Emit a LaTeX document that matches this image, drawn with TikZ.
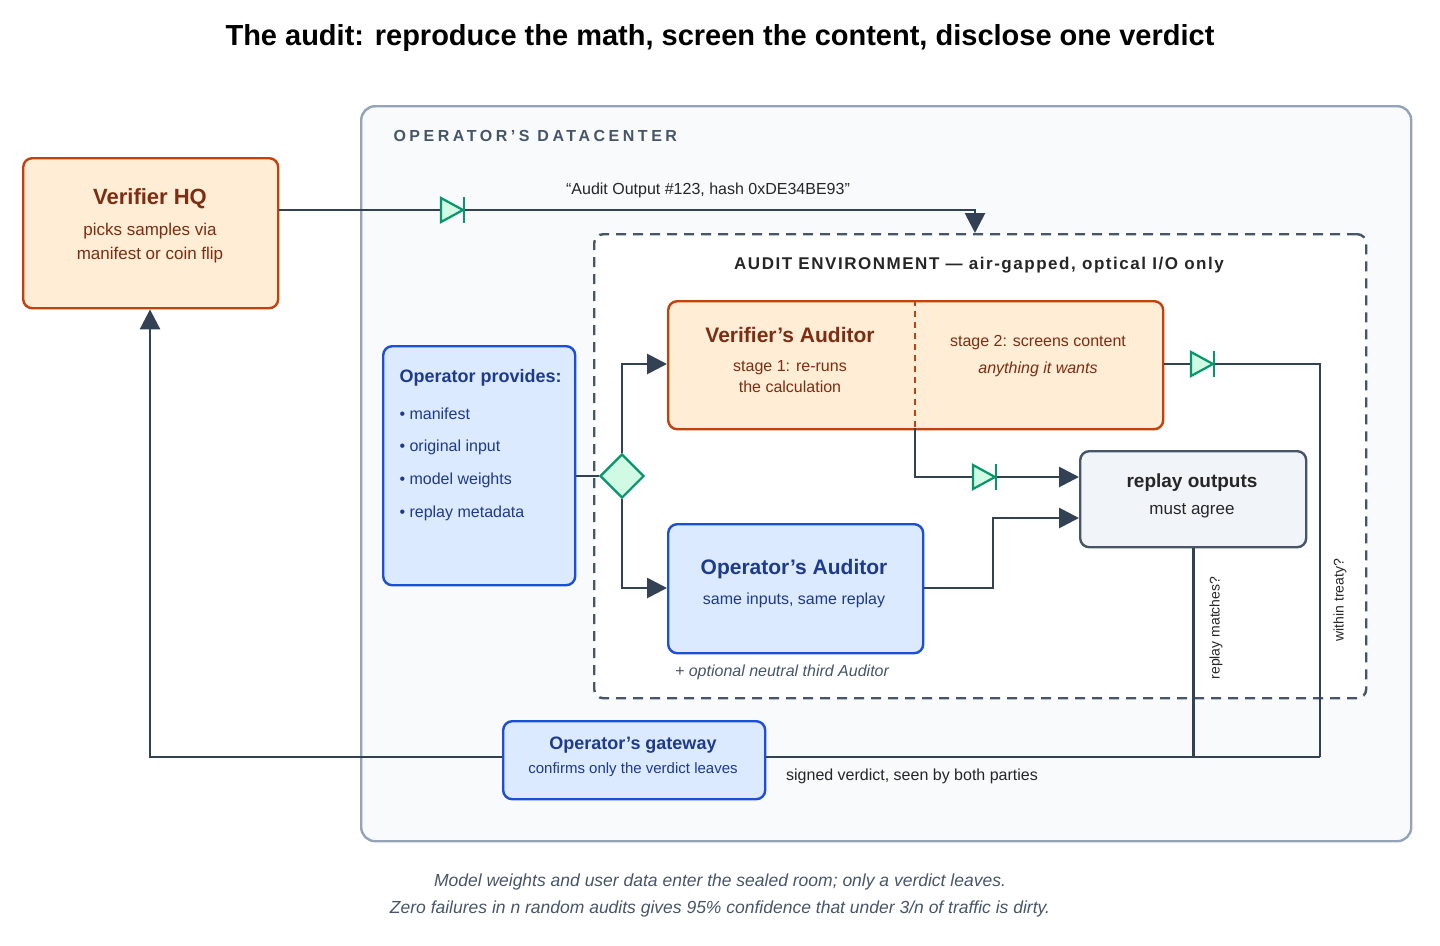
\documentclass[tikz,border=0pt]{standalone}
\usepackage{fontspec}
\defaultfontfeatures{}
\setmainfont{Liberation Sans}
\usepackage{xcolor}
\usetikzlibrary{positioning}
\usetikzlibrary{arrows.meta}
\usetikzlibrary{shapes.geometric}
\usetikzlibrary{calc}

\definecolor{ink}{HTML}{334155}
\definecolor{orgfill}{HTML}{FFEDD5}
\definecolor{orgline}{HTML}{C2410C}
\definecolor{orgtext}{HTML}{7C2D12}
\definecolor{bluefill}{HTML}{DBEAFE}
\definecolor{blueline}{HTML}{1D4ED8}
\definecolor{bluetext}{HTML}{1E3A8A}
\definecolor{grayfill}{HTML}{F1F5F9}
\definecolor{grayline}{HTML}{475569}
\definecolor{roomfill}{HTML}{F8FAFC}
\definecolor{roomline}{HTML}{94A3B8}
\definecolor{diodeline}{HTML}{059669}
\definecolor{diodefill}{HTML}{D1FAE5}

\tikzset{
  box/.style={draw, line width=2.4pt, rounded corners=9pt, anchor=north west, inner sep=0pt},
  wire/.style={draw=ink, line width=2.8pt},
  tip/.style={wire, -{Triangle[length=20pt,width=20pt]}},
  txt/.style={font=\fontsize{16}{19}\selectfont},
}
\newcommand{\diode}[1]{%
  \filldraw[draw=diodeline, fill=diodefill, line width=2.2pt] ($(#1)+(-12,-12)$) -- ($(#1)+(10,0)$) -- ($(#1)+(-12,12)$) -- cycle;
  \draw[diodeline, line width=2.8pt] ($(#1)+(11,-13)$) -- ($(#1)+(11,13)$);}

\begin{document}
\begin{tikzpicture}[x=1pt,y=-1pt]
\useasboundingbox (0,0) rectangle (1440,945);

% Title
\node[font=\bfseries\fontsize{29}{32}\selectfont, text=black] (title) at (720,38) {The audit: reproduce the math, screen the content, disclose one verdict};

% Rooms
\node[box, draw=roomline, fill=roomfill, rounded corners=14pt, minimum width=1050pt, minimum height=735pt] (dc) at (360,105) {};
\node[anchor=west, font=\bfseries\fontsize{16}{18}\selectfont\addfontfeatures{LetterSpace=22}, text=grayline] (dclabel) at (390,136) {OPERATOR'S DATACENTER};
\node[box, draw=grayline, fill=white, dash pattern=on 10pt off 7pt, line width=2.4pt, minimum width=772pt, minimum height=464pt] (env) at (593,233) {};
\node[font=\bfseries\fontsize{17}{19}\selectfont\addfontfeatures{LetterSpace=9}, text=black!85] (envlabel) at (979,265) {AUDIT ENVIRONMENT — air-gapped, optical I/O only};

% Boxes
\node[box, draw=orgline, fill=orgfill, minimum width=255pt, minimum height=150pt] (hq) at (22,157) {};
\node[font=\bfseries\fontsize{22}{25}\selectfont, text=orgtext] at (150,199) {Verifier HQ};
\node[text=orgtext, align=center, font=\fontsize{17}{24}\selectfont] at (150,243) {picks samples via\\manifest or coin flip};

\node[box, draw=blueline, fill=bluefill, minimum width=192pt, minimum height=239pt] (ops) at (382,345) {};
\node[anchor=west, font=\bfseries\fontsize{18}{20}\selectfont, text=bluetext] at (396,378) {Operator provides:};
\foreach \item [count=\i] in {manifest, original input, model weights, replay metadata}
  \node[anchor=west, txt, text=bluetext] at (396,381+\i*33) {• \item};

\node[diamond, draw=diodeline, fill=diodefill, line width=2.2pt, minimum width=44pt, minimum height=44pt, inner sep=0pt] (split) at (622,476) {};

\node[box, draw=orgline, fill=orgfill, minimum width=495pt, minimum height=128pt] (vaud) at (667,300) {};
\draw[orgline, line width=1.6pt, dash pattern=on 6pt off 5pt] (915,300) -- (915,428);
\node[font=\bfseries\fontsize{21}{24}\selectfont, text=orgtext] at (790,335) {Verifier's Auditor};
\node[txt, text=orgtext, align=center, font=\fontsize{16}{21}\selectfont] at (790,377) {stage 1: re-runs\\the calculation};
\node[text=orgtext, align=center, font=\fontsize{16}{27}\selectfont] at (1038,356) {stage 2: screens content\\\itshape anything it wants};

\node[box, draw=blueline, fill=bluefill, minimum width=255pt, minimum height=129pt] (oaud) at (667,523) {};
\node[font=\bfseries\fontsize{21}{24}\selectfont, text=bluetext] at (794,569) {Operator's Auditor};
\node[txt, text=bluetext] at (794,600) {same inputs, same replay};
\node[font=\itshape\fontsize{16}{18}\selectfont, text=grayline] (third) at (782,672) {+ optional neutral third Auditor};

\node[box, draw=grayline, fill=grayfill, minimum width=226pt, minimum height=96pt] (replay) at (1079,450) {};
\node[font=\bfseries\fontsize{19}{22}\selectfont, text=black!85] at (1192,483) {replay outputs};
\node[font=\fontsize{17}{20}\selectfont, text=black!85] at (1192,511) {must agree};

\node[box, draw=blueline, fill=bluefill, minimum width=262pt, minimum height=78pt] (gate) at (502,720) {};
\node[font=\bfseries\fontsize{18}{20}\selectfont, text=bluetext] at (633,745) {Operator's gateway};
\node[font=\fontsize{15}{18}\selectfont, text=bluetext] at (633,770) {confirms only the verdict leaves};

% Connectors
\coordinate (drop) at (975,210);
\draw[tip] (hq.east |- drop) -- (drop) -- (env.north -| drop);
\node[txt, text=black!85] (quote) at (708,190) {“Audit Output \#123, hash 0xDE34BE93”};
\diode{453,210}

\draw[wire] (ops.east |- split) -- (split.west);
\draw[tip] (split.north) |- (vaud.west |- 0,364);
\draw[tip] (split.south) |- (oaud.west |- 0,588);

\coordinate (treaty) at (1320,757);
\draw[wire] (vaud.east |- 0,364) -| (treaty);
\diode{1203,364}
\draw[tip] (915,428) |- (replay.west |- 0,477);
\diode{985,477}
\draw[tip] (oaud.east |- 0,588) -- (993,588) |- (replay.west |- 0,518);

\draw[wire] (replay.south) -- (replay.south |- treaty);
\draw[wire] (treaty) -- (gate.east |- treaty);
\draw[tip] (gate.west |- treaty) -- (150,757) -- (hq.south -| 150,0);

\node[rotate=90, font=\fontsize{14}{16}\selectfont, text=black!85] (lblmatch) at (1216,628) {replay matches?};
\node[rotate=90, font=\fontsize{14}{16}\selectfont, text=black!85] (lbltreaty) at (1340,600) {within treaty?};
\node[txt, text=black!85] (verdict) at (912,776) {signed verdict, seen by both parties};

% Caption
\node[font=\itshape\fontsize{17.5}{27}\selectfont, text=grayline, align=center] (caption) at (720,895) {Model weights and user data enter the sealed room; only a verdict leaves.\\Zero failures in n random audits gives 95\% confidence that under 3/n of traffic is dirty.};
\end{tikzpicture}
\end{document}
